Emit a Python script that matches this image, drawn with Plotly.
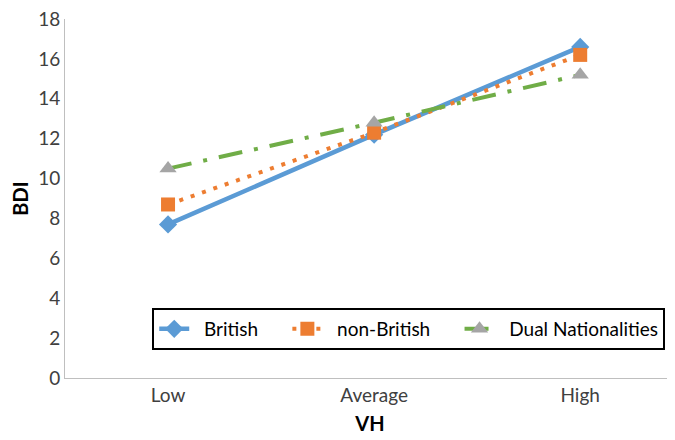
import plotly.graph_objects as go

categories = ["Low", "Average", "High"]
british = [7.7, 12.2, 16.6]
non_british = [8.7, 12.3, 16.2]
dual = [10.5, 12.8, 15.2]
y_ticks = [0, 2, 4, 6, 8, 10, 12, 14, 16, 18]
legend_names = ["British", "non-British", "Dual Nationalities"]

xi = list(range(len(categories)))
lead = "\u00a0\u00a0"
trail = "\u00a0\u00a0\u00a0\u00a0\u00a0"

fig = go.Figure()
fig.add_trace(go.Scatter(
    x=xi, y=british, name=lead + legend_names[0] + trail, mode="lines+markers",
    line=dict(color="#5B9BD5", width=4.5),
    marker=dict(symbol="diamond", size=14, color="#5B9BD5"),
))
fig.add_trace(go.Scatter(
    x=xi, y=non_british, name=lead + legend_names[1] + trail, mode="lines+markers",
    line=dict(color="#ED7D31", width=4, dash="4px,8px"),
    marker=dict(symbol="square", size=14, color="#ED7D31"),
))
fig.add_trace(go.Scatter(
    x=xi, y=dual, name=lead + legend_names[2], mode="lines+markers",
    line=dict(color="#70AD47", width=4, dash="24px,12px,4px,12px"),
    marker=dict(symbol="triangle-up", size=15, color="#A5A5A5"),
))

# page body has an 8px margin, so the figure is shrunk by 8px to fit the window
fig.update_layout(
    width=667, height=432,
    margin=dict(l=57, r=0, t=11, b=62),
    paper_bgcolor="white", plot_bgcolor="white",
    font=dict(family="Lato, Open Sans, sans-serif", size=18, color="#404040"),
    showlegend=True,
    legend=dict(
        orientation="h", x=0.143, y=0.195, xanchor="left", yanchor="top",
        bordercolor="black", borderwidth=2, bgcolor="white",
        font=dict(size=19, color="black"),
    ),
    xaxis=dict(
        range=[-0.5, 2.46], automargin=False,
        tickmode="array", tickvals=xi, ticktext=categories,
        showgrid=False, zeroline=False,
        showline=True, linecolor="#BFBFBF", linewidth=1,
        ticks="", tickfont=dict(size=19, color="#404040"),
        title=dict(text="<b>VH</b>", font=dict(size=20, color="black"), standoff=12),
    ),
    yaxis=dict(
        range=[0, 18], tickmode="array", tickvals=y_ticks, automargin=False,
        ticklabeloverflow="allow",
        showgrid=False, zeroline=False,
        showline=True, linecolor="#BFBFBF", linewidth=1,
        ticks="", tickfont=dict(size=19, color="#404040"),
        title=dict(text="<b>BDI</b>", font=dict(size=20, color="black"), standoff=8),
    ),
)

fig.write_html("out.html")
